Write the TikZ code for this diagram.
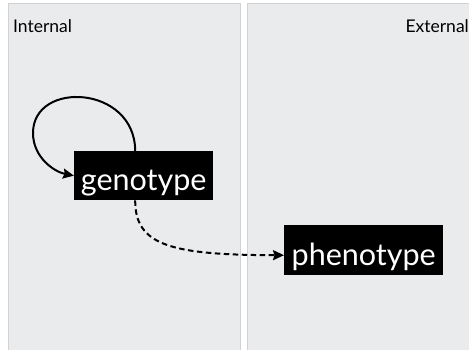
\documentclass[tikz,border=0pt]{standalone}
\usepackage{fontspec}
\setmainfont{Lato}
\usetikzlibrary{arrows.meta}
\definecolor{panelfill}{HTML}{EAEBED}
\definecolor{panelline}{HTML}{D2D2D4}
\tikzset{
  panel/.style={fill=panelfill, draw=panelline, line width=0.8pt},
  sidelabel/.style={inner sep=0pt, font=\fontsize{17.5}{20}\selectfont},
  termbox/.style={fill=black, text=white, inner sep=0pt, anchor=north west,
    font=\fontsize{30.5}{34}\selectfont},
  link/.style={line width=2pt, -{Stealth[length=11pt,width=10pt,inset=1.5pt]}},
}
\begin{document}
\begin{tikzpicture}[x=1pt, y=-1pt]
  \useasboundingbox (0,0) rectangle (469,349);
  \clip (0,0) rectangle (469,349);
  % two regions
  \path[panel] (8,3) rectangle (240,360);
  \path[panel] (247,3) rectangle (480,360);
  \node[sidelabel, anchor=base west] (internal) at (13,32) {Internal};
  \node[sidelabel, anchor=base east] (external) at (469,32) {External};
  % terms
  \node[termbox, minimum width=139pt, minimum height=49pt,
        text height=39.7pt, text depth=9.3pt] (geno) at (74,151) {genotype};
  \node[termbox, minimum width=159pt, minimum height=50pt,
        text height=40pt, text depth=10pt] (pheno) at (284,225) {phenotype};
  % self-reference of the genotype
  \coordinate (loopleft) at (33,133);
  \draw[line width=2pt] ([xshift=-8.5pt]geno.north)
    .. controls (135,85) and (33,80) .. (loopleft);
  \draw[link] (loopleft) .. controls (33,158) and (55,172) .. (geno.west);
  % genotype to phenotype
  \draw[link, dash pattern=on 5.5pt off 3.5pt] ([xshift=-8.5pt]geno.south)
    .. controls (135,245) and (170,255) .. ([yshift=-5pt]pheno.west);
\end{tikzpicture}
\end{document}
